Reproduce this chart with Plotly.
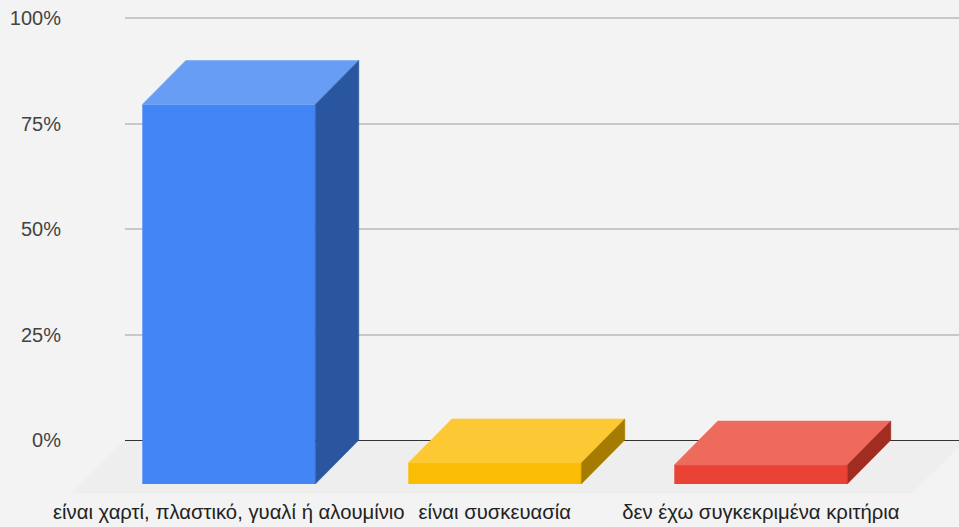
import plotly.graph_objects as go

categories = ["είναι χαρτί, πλαστικό, γυαλί ή αλουμίνιο", "είναι συσκευασία", "δεν έχω συγκεκριμένα κριτήρια"]
values = [90, 5, 4.5]
front_colors = ["#4285f4", "#fbbc04", "#ea4335"]
top_colors = ["#689df6", "#fcc934", "#ee6a5d"]
side_colors = ["#2a56a0", "#a67c00", "#a02c22"]
y_ticks = [0, 25, 50, 75, 100]
y_labels = ["0%", "25%", "50%", "75%", "100%"]

W, H = 959, 527
L, B = 125, 495          # plot area left edge and bottom edge, px
ZERO_PX, HUNDRED_PX = 440, 18.3
PX_PER_UNIT = (ZERO_PX - HUNDRED_PX) / 100
SPACING = 266
C0 = 228.8
BAR_W = 173 / SPACING
DX = 43.5 / SPACING       # 3D depth on the x axis
DY = 44 / PX_PER_UNIT     # 3D depth on the y axis
x_pos = list(range(len(categories)))

fig = go.Figure()
fig.add_trace(go.Bar(x=x_pos, y=values, base=[-DY] * len(values), width=BAR_W,
                     marker=dict(color=front_colors, line=dict(width=0)), hoverinfo="skip"))
for i, v in enumerate(values):
    xl, xr = i - BAR_W / 2, i + BAR_W / 2
    yt = v - DY
    yb = -DY
    fig.add_trace(go.Scatter(x=[xl, xr, xr + DX, xl + DX, xl], y=[yt, yt, yt + DY, yt + DY, yt],
                             mode="lines", fill="toself", fillcolor=top_colors[i],
                             line=dict(width=0.5, color=top_colors[i]), hoverinfo="skip"))
    fig.add_trace(go.Scatter(x=[xr, xr + DX, xr + DX, xr, xr], y=[yt, yt + DY, yb + DY, yb, yt],
                             mode="lines", fill="toself", fillcolor=side_colors[i],
                             line=dict(width=0.5, color=side_colors[i]), hoverinfo="skip"))

px = lambda p: (p - L) / (W - L)
py = lambda p: 1 - p / B
fig.add_shape(type="path", xref="paper", yref="paper", layer="below",
              path=f"M {px(125)} {py(440)} L {px(959)} {py(440)} L {px(959)} {py(447)} "
                   f"L {px(912)} {py(493)} L {px(72)} {py(493)} Z",
              fillcolor="#eeeeee", line=dict(width=0))

fig.update_layout(
    width=W, height=H, autosize=False,
    margin=dict(l=L, r=0, t=0, b=H - B, pad=0),
    paper_bgcolor="#f3f3f3", plot_bgcolor="rgba(0,0,0,0)",
    showlegend=False,
    font=dict(family="Liberation Sans, Arial, sans-serif", size=18, color="#222222"),
    xaxis=dict(range=[(L - C0) / SPACING, (W - C0) / SPACING], tickmode="array",
               tickvals=x_pos, ticktext=categories, showgrid=False, zeroline=False,
               showline=False, ticks="", tickfont=dict(size=20.3, color="#222222"),
               ticklabelstandoff=3),
    yaxis=dict(range=[(ZERO_PX - B) / PX_PER_UNIT, ZERO_PX / PX_PER_UNIT], tickmode="array",
               tickvals=y_ticks, ticktext=y_labels, showgrid=True, gridcolor="#c8c8c8",
               gridwidth=1.5, zeroline=True, zerolinecolor="#333333", zerolinewidth=1.2,
               showline=False, ticks="", tickfont=dict(size=20, color="#444444"),
               ticklabelstandoff=63),
)
fig.write_html("out.html", config={"displayModeBar": False},
               post_script="document.body.style.margin='0';document.body.style.overflow='hidden';")
